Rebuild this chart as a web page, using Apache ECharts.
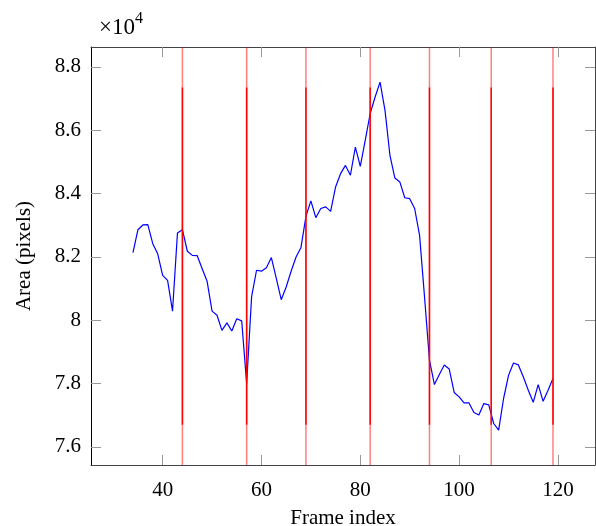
<!DOCTYPE html>
<html>
<head>
<meta charset="utf-8">
<script src="https://cdn.jsdelivr.net/npm/echarts@6/dist/echarts.min.js"></script>
<style>html,body{margin:0;padding:0;background:#fff}#c{width:596px;height:526px}</style>
</head>
<body>
<div id="c"></div>
<script>
// Data (area in pixels)
const frames = [34,35,36,37,38,39,40,41,42,43,44,45,46,47,48,49,50,51,52,53,54,55,56,57,58,59,60,61,62,63,64,65,66,67,68,69,70,71,72,73,74,75,76,77,78,79,80,81,82,83,84,85,86,87,88,89,90,91,92,93,94,95,96,97,98,99,100,101,102,103,104,105,106,107,108,109,110,111,112,113,114,115,116,117,118,119];
const areas = [82140,82860,83010,83020,82420,82100,81420,81260,80290,82760,82860,82180,82050,82040,81630,81230,80290,80160,79680,79920,79660,80050,79980,78000,80740,81580,81550,81660,81980,81320,80650,81050,81550,82000,82300,83280,83770,83240,83530,83580,83440,84210,84630,84890,84580,85470,84860,85680,86530,87050,87520,86630,85210,84490,84370,83870,83840,83530,82680,80740,78740,77970,78290,78590,78460,77720,77580,77390,77390,77090,77010,77370,77330,76740,76530,77530,78260,78650,78590,78210,77790,77410,77970,77440,77790,78160];
const markerFrames = [44,57,69,82,94,106.5,119];
const markerLow = 76700;
const markerHigh = 87350;
const xTicks = [40,60,80,100,120];
const yTicks = [76000,78000,80000,82000,84000,86000,88000];
const xRange = [25.5,127.5];
const yRange = [75430,88630];

const font = '"Liberation Serif","DejaVu Serif",serif';
const chart = echarts.init(document.getElementById('c'));

const tickStyle = {show:true,inside:true,length:10,lineStyle:{color:'#999',width:1}};
const lineStyleAxis = {show:true,lineStyle:{color:'#444',width:1}};

const series = [{
  type:'line',
  data: frames.map((f,i)=>[f,areas[i]]),
  showSymbol:false,
  symbol:'none',
  lineStyle:{color:'#0000ff',width:1.2},
  z:2,
  animation:false
}];
markerFrames.forEach(f=>{
  series.push({
    type:'line', data:[[f,yRange[0]],[f,yRange[1]]], symbol:'none',
    lineStyle:{color:'rgba(255,0,0,0.5)',width:1.5}, z:3, animation:false
  });
  series.push({
    type:'line', data:[[f,markerLow],[f,markerHigh]], symbol:'none',
    lineStyle:{color:'#ff0000',width:1.5}, z:4, animation:false
  });
});

chart.setOption({
  animation:false,
  grid:{left:91,right:1,top:47,bottom:61,containLabel:false,outerBoundsMode:'none'},
  graphic:[{
    type:'text', left:99, top:8,
    style:{
      text:'{a|×10}{b|4}',
      rich:{
        a:{fontFamily:font,fontSize:23,fill:'#000',verticalAlign:'bottom',lineHeight:28,padding:[8,0,0,0]},
        b:{fontFamily:font,fontSize:16,fill:'#000',verticalAlign:'top',lineHeight:28}
      }
    }
  }],
  xAxis:[{
    type:'value', min:xRange[0], max:xRange[1], position:'bottom',
    name:'Frame index', nameLocation:'middle', nameGap:43,
    nameTextStyle:{fontFamily:font,fontSize:21,color:'#000'},
    axisLine:lineStyleAxis,
    axisTick:Object.assign({customValues:xTicks},tickStyle),
    axisLabel:{customValues:xTicks,fontFamily:font,fontSize:21,color:'#000',margin:15},
    splitLine:{show:false}
  },{
    type:'value', min:xRange[0], max:xRange[1], position:'top',
    axisLine:lineStyleAxis,
    axisTick:Object.assign({customValues:xTicks},tickStyle),
    axisLabel:{show:false},
    splitLine:{show:false}
  }],
  yAxis:[{
    type:'value', min:yRange[0], max:yRange[1], position:'left',
    name:'Area (pixels)', nameLocation:'middle', nameGap:56, nameRotate:90,
    nameTextStyle:{fontFamily:font,fontSize:21,color:'#000'},
    axisLine:{show:true,lineStyle:{color:'#000',width:1}},
    axisTick:Object.assign({customValues:yTicks},tickStyle),
    axisLabel:{customValues:yTicks,fontFamily:font,fontSize:21,color:'#000',margin:10,
      formatter:v=>String(Math.round(v/1000)/10)},
    splitLine:{show:false}
  },{
    type:'value', min:yRange[0], max:yRange[1], position:'right',
    axisLine:lineStyleAxis,
    axisTick:Object.assign({customValues:yTicks},tickStyle),
    axisLabel:{show:false},
    splitLine:{show:false}
  }],
  series:series
});
</script>
</body>
</html>
